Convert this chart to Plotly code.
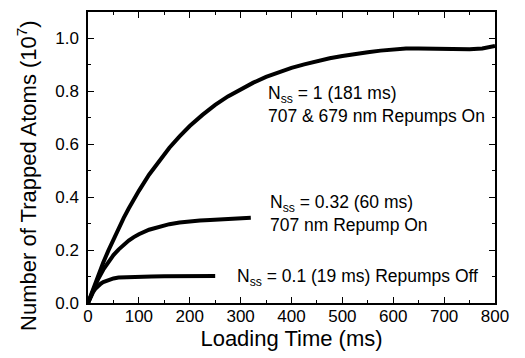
import plotly.graph_objects as go

# Loading curves (time in ms, atoms in units of 1e7)
t_full = [0, 10, 20, 30, 40, 50, 60, 70, 80, 90, 100, 120, 140, 160, 180, 200,
          225, 250, 275, 300, 325, 350, 375, 400, 425, 450, 475, 500, 525, 550,
          575, 600, 625, 650, 675, 700, 725, 750, 775, 790, 800]
n_full = [0.0, 0.054, 0.105, 0.153, 0.198, 0.241, 0.282, 0.321, 0.357, 0.392,
          0.424, 0.485, 0.539, 0.587, 0.630, 0.669, 0.711, 0.749, 0.781, 0.809,
          0.833, 0.855, 0.873, 0.889, 0.902, 0.914, 0.925, 0.934, 0.942, 0.948,
          0.954, 0.959, 0.962, 0.962, 0.961, 0.962, 0.960, 0.959, 0.962, 0.966, 0.972]

t_707 = [0, 10, 20, 30, 40, 50, 60, 70, 80, 90, 100, 120, 140, 160, 180, 200,
         220, 240, 260, 280, 300, 320]
n_707 = [0.0, 0.049, 0.091, 0.126, 0.156, 0.181, 0.202, 0.220, 0.236, 0.249,
         0.260, 0.277, 0.289, 0.298, 0.304, 0.309, 0.312, 0.314, 0.316, 0.318,
         0.319, 0.322]

t_off = [0, 5, 10, 15, 20, 25, 30, 40, 50, 60, 80, 100, 125, 150, 175, 200, 225, 250]
n_off = [0.0, 0.023, 0.041, 0.055, 0.065, 0.073, 0.079, 0.088, 0.093, 0.096,
         0.098, 0.099, 0.100, 0.101, 0.101, 0.101, 0.102, 0.102]

x_ticks = [0, 100, 200, 300, 400, 500, 600, 700, 800]
y_ticks = [0.0, 0.2, 0.4, 0.6, 0.8, 1.0]
y_tick_labels = ["0.0", "0.2", "0.4", "0.6", "0.8", "1.0"]

labels = [
    ("N<sub>ss</sub> = 1 (181 ms)<br>707 & 679 nm Repumps On", 350, 0.75),
    ("N<sub>ss</sub> = 0.32 (60 ms)<br>707 nm Repump On", 354, 0.34),
    ("N<sub>ss</sub> = 0.1 (19 ms) Repumps Off", 289, 0.097),
]

FONT = "Arial, Liberation Sans, Helvetica, sans-serif"

fig = go.Figure()
for t, n in [(t_full, n_full), (t_707, n_707), (t_off, n_off)]:
    fig.add_trace(go.Scatter(x=t, y=n, mode="lines",
                             line=dict(color="black", width=4),
                             showlegend=False, hoverinfo="skip"))

for text, x, y in labels:
    fig.add_annotation(text=text, x=x, y=y, xref="x", yref="y",
                       xanchor="left", yanchor="middle", align="left",
                       showarrow=False,
                       font=dict(family=FONT, size=17.5, color="black"))

# y-axis title placed as a rotated annotation (it sits a little below the plot centre)
fig.add_annotation(text="Number of Trapped Atoms (10<sup>7</sup>)", xref="paper", yref="paper",
                   x=-0.15, y=0.44, xanchor="center", yanchor="middle", textangle=-90,
                   showarrow=False, font=dict(family=FONT, size=22, color="black"))

axis_common = dict(showline=True, linecolor="#000000", linewidth=1.5, mirror="ticks",
                   ticks="inside", ticklen=6, tickwidth=1.3, tickcolor="#000000",
                   showgrid=False, zeroline=False, automargin=False,
                   tickfont=dict(family=FONT, size=17, color="black"))

fig.update_xaxes(range=[0, 800], tickvals=x_ticks, ticklabelstandoff=-3,
                 title=dict(text="Loading Time (ms)", standoff=2,
                            font=dict(family=FONT, size=22, color="black")),
                 minor=dict(ticks="inside", ticklen=3, tickwidth=1.3, dtick=50,
                            tickcolor="#000000", showgrid=False),
                 **axis_common)
fig.update_yaxes(range=[0, 1.1], tickvals=y_ticks, ticktext=y_tick_labels,
                 ticklabelstandoff=4,
                 minor=dict(ticks="inside", ticklen=3, tickwidth=1.3, dtick=0.1,
                            tickcolor="#000000", showgrid=False),
                 **axis_common)

fig.update_layout(width=517, height=350,
                  margin=dict(l=80, r=30, t=4, b=55),
                  paper_bgcolor="white", plot_bgcolor="white",
                  font=dict(family=FONT, color="black"))

fig.write_html("out.html")
